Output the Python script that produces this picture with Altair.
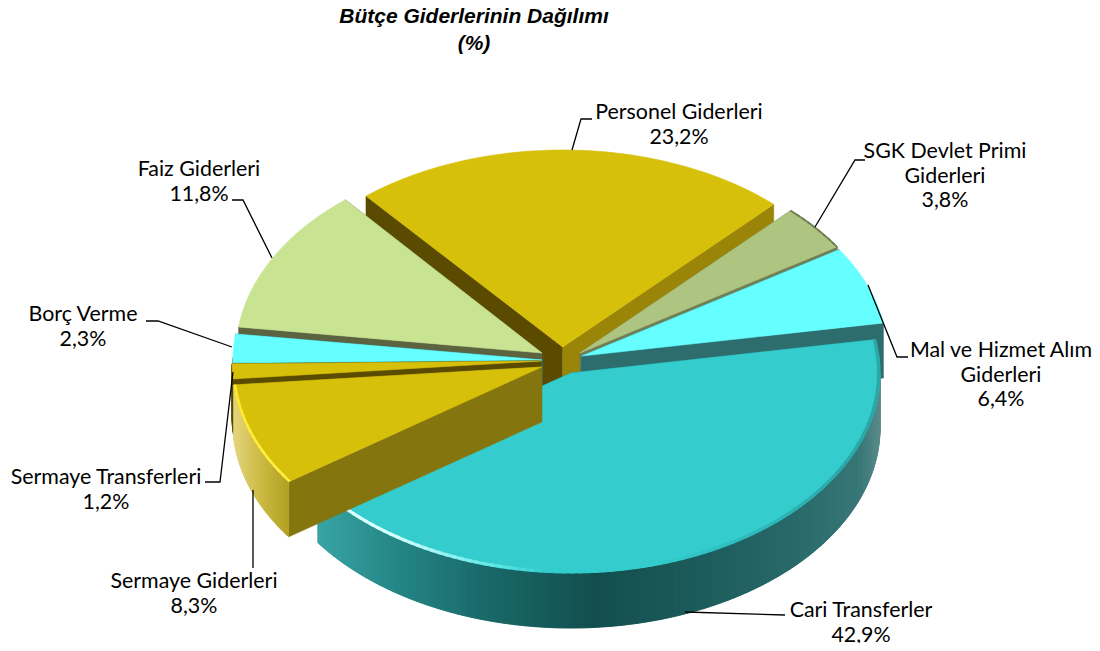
import math
import altair as alt

# ---- data ----
names = ["Personel Giderleri", "SGK Devlet Primi\nGiderleri", "Mal ve Hizmet Alım\nGiderleri",
         "Cari Transferler", "Sermaye Giderleri", "Sermaye Transferleri", "Borç Verme", "Faiz Giderleri"]
values = [23.2, 3.8, 6.4, 42.9, 8.3, 1.2, 2.3, 11.8]
title_lines = ["Bütçe Giderlerinin Dağılımı", "(%)"]

# ---- styling / layout ----
face = ["#D7C00A", "#AEC581", "#66FFFF", "#34CCCC", "#D7C00A", "#D7C00A", "#66FFFF", "#C8E391"]
wall1 = ["#5A4B00", "#6F7E55", "#2E6D6D", "#1F7070", "#85750F", "#5A4B00", "#2A7A80", "#5C6340"]
wall2 = ["#9A8508", "#6F7E55", "#2E6D6D", "#2E6D6D", "#85750F", "#5A4B00", "#2A7A80", "#5C6340"]
apex = [(562.7, 347), (580, 353), (581.7, 356), (571, 373), (541.7, 367), (541, 361), (542, 360), (542, 353)]
radius_x = [306, 306, 306, 309, 309, 309, 309, 306]
radius_y = [197, 197, 197, 200, 200, 200, 200, 200]
draw_order = [0, 1, 2, 7, 6, 5, 3, 4]
START = -40.0
H = 55.0
label_pos = [(679, 113), (945, 152), (1001, 351), (861, 611), (194, 582), (106, 478), (83, 315), (199, 170)]
leaders = [
    [(572, 150), (581, 119), (592, 119)],
    [(815, 227), (855, 160), (865, 160)],
    [(868, 285), (897, 357), (908, 357)],
    [(685, 612), (785, 615)],
    [(253, 490), (253, 568)],
    [(233, 372), (220, 482), (205, 482)],
    [(232, 347), (158, 321), (146, 321)],
    [(272, 258), (243, 200), (232, 200)],
]
cari_stops = [(316, "#3AA5A5"), (400, "#258585"), (480, "#1B6B6B"), (593, "#144F4F"),
              (700, "#1D5C5C"), (800, "#2A6B6B"), (860, "#3A7878"), (880, "#5C8C8C")]
serm_stops = [(233, "#E6D680"), (260, "#CDBB45"), (291, "#AF9E20")]
wall_stops = {3: cari_stops, 4: serm_stops, 5: [(233, "#5A4B00"), (240, "#5A4B00")],
              6: [(233, "#2A7A80"), (240, "#2A7A80")]}
# rim shading: colour by angle, per wedge, (angle, colour) stops and a width in px
rim_shade = {
    3: ([(80, "#2AA8A8"), (120, "#2AA8A8"), (150, "#30BEBE"), (165, "#34CCCC"), (185, "#34CCCC"),
         (195, "#60E8E8"), (215, "#D8FFFF"), (235, "#E8FFFF")], 2.5),
    4: ([(234, "#FFF04A"), (265, "#FFE830")], 2.0),
    1: ([(43, "#6F7E55"), (58, "#6F7E55")], 1.2),
}
LINE_H = 24.5
FONT = "Lato"


def lerp_color(stops, x):
    def rgb(h):
        return [int(h[i:i + 2], 16) for i in (1, 3, 5)]
    if x <= stops[0][0]:
        return stops[0][1]
    for (a, ca), (b, cb) in zip(stops, stops[1:]):
        if x <= b:
            t = (x - a) / (b - a)
            c = [round(p + (q - p) * t) for p, q in zip(rgb(ca), rgb(cb))]
            return "#%02x%02x%02x" % tuple(c)
    return stops[-1][1]


def rim(i, th, inset=0.0):
    r = math.radians(th)
    return (apex[i][0] + (radius_x[i] - inset) * math.sin(r),
            apex[i][1] - (radius_y[i] - inset) * math.cos(r))


def poly(pts, color):
    ring = [list(p) for p in pts] + [list(pts[0])]
    return {"type": "Feature", "properties": {"c": color},
            "geometry": {"type": "Polygon", "coordinates": [ring]}}


# angular extents derived from the values
total = sum(values)
angles = []
cur = START
for v in values:
    nxt = cur + v / total * 360.0
    angles.append((cur, nxt))
    cur = nxt

features = []
for i in draw_order:
    a, b = angles[i]
    ax, ay = apex[i]
    # radial walls
    p = rim(i, a)
    features.append(poly([(ax, ay), p, (p[0], p[1] + H), (ax, ay + H)], wall1[i]))
    p = rim(i, b)
    features.append(poly([(ax, ay), p, (p[0], p[1] + H), (ax, ay + H)], wall2[i]))
    # outer wall strips (front-facing part); each strip overlaps the next one
    n = max(1, int((b - a) * 2))
    if i in wall_stops:
        for k in range(n):
            t0 = a + (b - a) * k / n
            t1 = a + (b - a) * (k + 1) / n
            if math.cos(math.radians((t0 + t1) / 2)) >= 0:
                continue
            t2 = min(b, t1 + (b - a) / n)
            ths = [t0, t1, t2]
            top = [rim(i, t) for t in ths]
            col = lerp_color(wall_stops[i], (top[0][0] + top[1][0]) / 2)
            features.append(poly(top + [(q[0], q[1] + H) for q in reversed(top)], col))
    # top face
    n = max(2, int(b - a))
    features.append(poly([(ax, ay)] + [rim(i, a + (b - a) * k / n) for k in range(n + 1)], face[i]))
    # rim shading on the face
    if i in rim_shade:
        stops, w = rim_shade[i]
        m = max(2, int((b - a) / 1.5))
        for k in range(m):
            t0 = a + (b - a) * k / m
            t1 = min(b, a + (b - a) * (k + 1.5) / m)
            col = lerp_color(stops, (t0 + t1) / 2)
            features.append(poly([rim(i, t0), rim(i, t1), rim(i, t1, w), rim(i, t0, w)], col))

leader_feats = [{"type": "Feature", "properties": {"c": "#000000", "w": 1.3},
                 "geometry": {"type": "LineString", "coordinates": [list(p) for p in ln]}}
                for ln in leaders]

label_rows = []
for nm, v, (x, y) in zip(names, values, label_pos):
    lines = nm.split("\n") + [f"{v:.1f}".replace(".", ",") + "%"]
    for k, t in enumerate(lines):
        label_rows.append({"x": x, "y": y + k * LINE_H, "t": t})
title_rows = [{"x": 474, "y": 17, "t": title_lines[0]}, {"x": 474, "y": 44, "t": title_lines[1]}]

proj = dict(type="identity", scale=1, translate=[-8, -8])

faces = alt.Chart(alt.Data(values=features)).mark_geoshape(strokeWidth=0.6).encode(
    fill=alt.Fill("properties.c:N", scale=None),
    stroke=alt.Stroke("properties.c:N", scale=None),
).project(**proj)
hl = alt.Chart(alt.Data(values=leader_feats)).mark_geoshape(filled=False).encode(
    stroke=alt.Stroke("properties.c:N", scale=None),
    strokeWidth=alt.StrokeWidth("properties.w:Q", scale=None),
).project(**proj)
labels = alt.Chart(alt.Data(values=label_rows)).mark_text(
    font=FONT, fontSize=21.4, color="#000000", align="center", baseline="middle"
).encode(longitude="x:Q", latitude="y:Q", text="t:N").project(**proj)
titles = alt.Chart(alt.Data(values=title_rows)).mark_text(
    font="Liberation Sans", fontSize=21, fontWeight="bold", fontStyle="italic", color="#000000",
    align="center", baseline="middle"
).encode(longitude="x:Q", latitude="y:Q", text="t:N").project(**proj)

chart = alt.layer(faces, hl, labels, titles).properties(
    width=1084, height=635, padding=0, autosize=alt.AutoSizeParams(type="none")
).configure_view(stroke=None)

chart.save("out.html", embed_options={"renderer": "svg", "actions": False})
